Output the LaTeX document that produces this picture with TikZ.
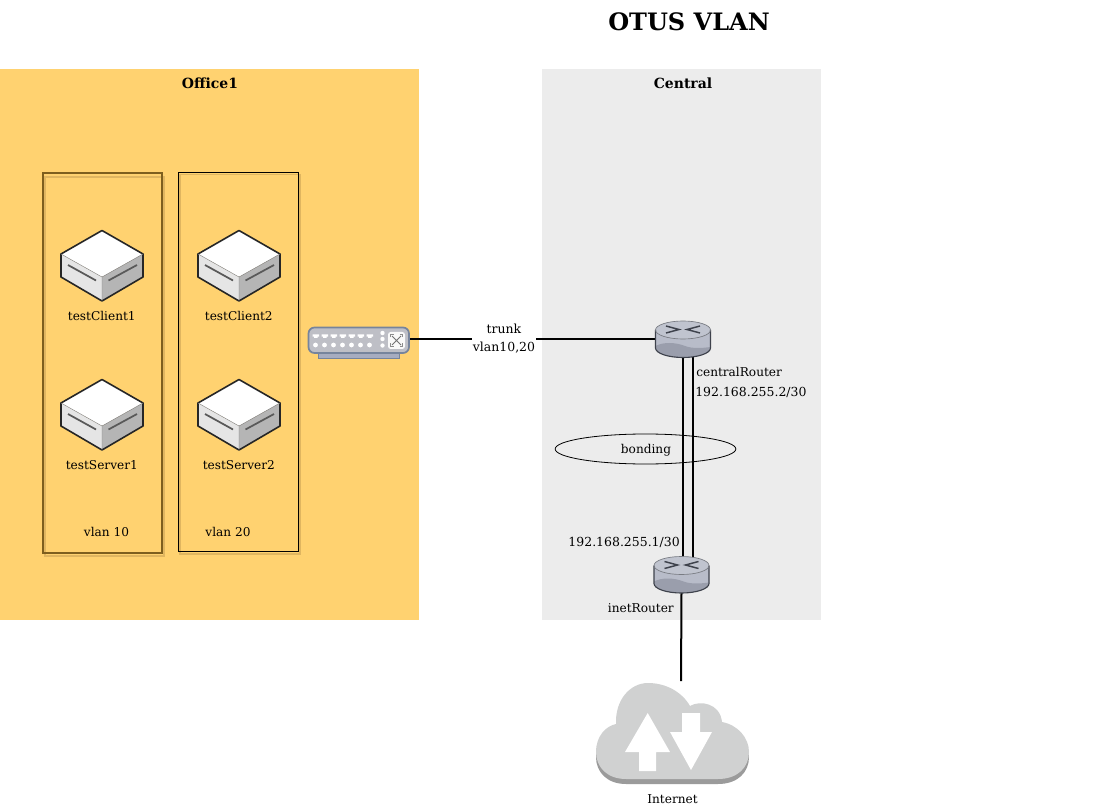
\documentclass[tikz,border=0pt]{standalone}
\usepackage{fontspec}
\setmainfont{DejaVu Serif}
\usetikzlibrary{calc,shapes.geometric}
\definecolor{officefill}{HTML}{FFD270}
\definecolor{centralfill}{HTML}{ECECEC}
\definecolor{vlanedge}{HTML}{7E5F1E}
\definecolor{vlanshade}{HTML}{E0B660}
\definecolor{rtrtop}{HTML}{C0C4CF}
\definecolor{rtrside}{HTML}{B8BCC9}
\definecolor{rtrlow}{HTML}{9A9EAC}
\definecolor{rtredge}{HTML}{3E424C}
\definecolor{swfill}{HTML}{BEBFC6}
\definecolor{swedge}{HTML}{76849C}
\definecolor{swbase}{HTML}{A6ACC0}
\definecolor{cloudfill}{HTML}{D0D1D1}
\definecolor{cloudshade}{HTML}{9B9B9B}
\tikzset{
  txt/.style={font=\fontsize{9.1pt}{13.5pt}\selectfont,inner sep=0pt,align=center,text=black},
  ip/.style={font=\fontsize{9.35pt}{13.5pt}\selectfont,inner sep=0pt,align=center,text=black},
  head/.style={font=\fontsize{10.5pt}{13pt}\selectfont\bfseries,inner sep=0pt},
  link/.style={draw=black,line width=1.5pt},
  anchorbox/.style={inner sep=0pt,outer sep=0pt},
  server/.pic={
    \path[fill=white] (0,-23.5) -- (41,0) -- (0,23) -- (-41,0) -- cycle;
    \path[fill=black!10] (-41,0) -- (0,23) -- (0,47) -- (-41,23) -- cycle;
    \path[fill=black!29] (41,0) -- (0,23) -- (0,47) -- (41,23) -- cycle;
    \draw[line width=1.2pt,draw=black!85,line join=round] (0,-23.5) -- (41,0) -- (41,23) -- (0,47) -- (-41,23) -- (-41,0) -- cycle;
    \draw[line width=0.3pt,draw=black!50] (-41,0) -- (0,23) -- (41,0) (0,23) -- (0,47);
    \draw[line width=1.3pt,draw=black!65] (-34,11) -- (-6,26.5) (6.5,26.5) -- (35,11);
  },
  router/.pic={
    \path[fill=rtrside] (-27.5,-9) -- (-27.5,9) arc[start angle=180,end angle=0,x radius=27.5,y radius=9.5] -- (27.5,-9) -- cycle;
    \path[fill=rtrlow] (-27.5,7) .. controls (-20,3) and (-8,3) .. (2,7) .. controls (10,10) and (20,9) .. (27.5,8) -- (27.5,9) arc[start angle=0,end angle=180,x radius=27.5,y radius=9.5] -- cycle;
    \path[fill=rtrtop] (0,-9) ellipse[x radius=27.5,y radius=9];
    \draw[line width=0.85pt,draw=rtredge] (-27.5,-9) -- (-27.5,9) arc[start angle=180,end angle=0,x radius=27.5,y radius=9.5] -- (27.5,-9);
    \draw[line width=0.5pt,draw=rtredge!70] (0,-9) ellipse[x radius=27.5,y radius=9];
    \draw[line width=1.1pt,draw=rtredge] (-17,-13) -- (-4,-9.5) -- (-17,-6) (17,-13) -- (4,-9.5) -- (17,-6);
  }
}
\begin{document}
\begin{tikzpicture}[x=0.75pt,y=-0.75pt]
\useasboundingbox (0,0) rectangle (1120,805);
\fill[white] (0,0) rectangle (1120,805);
% zones
\node[anchorbox,fill=officefill,minimum width=314pt,minimum height=413.25pt] (office) at (209.3,344.5) {};
\node[anchorbox,fill=centralfill,minimum width=209.25pt,minimum height=413.25pt] (central) at (681.5,344.5) {};
\node[head] (officelabel) at (210,83) {Office1};
\node[head] (centrallabel) at (683,83) {Central};
\node[font=\fontsize{18pt}{22pt}\selectfont\bfseries,inner sep=0pt] (title) at (689,21.5) {OTUS VLAN};
% vlan boxes
\draw[vlanshade,line width=1.2pt] (45,177) rectangle (164,556);
\draw[vlanedge,line width=1.5pt] (42.5,173.5) rectangle (162,552.5);
\draw[vlanshade,line width=0.9pt] (180,174.5) rectangle (300,554);
\draw[black,line width=0.7pt] (178,172) rectangle (298,551.5);
% servers
\pic at (102,254) {server};
\pic at (239,254) {server};
\pic at (102,403) {server};
\pic at (239,403) {server};
\node[txt] (tc1) at (101.8,316) {testClient1};
\node[txt] (tc2) at (238.8,316) {testClient2};
\node[txt] (ts1) at (101.8,465) {testServer1};
\node[txt] (ts2) at (238.8,465) {testServer2};
\node[txt] (v10) at (106.5,532) {vlan 10};
\node[txt] (v20) at (228,532) {vlan 20};
% anchors
\node[anchorbox,minimum width=75pt,minimum height=19.5pt] (sw) at (358.5,339) {};
\node[anchorbox,minimum width=41.25pt,minimum height=27pt] (crt) at (683,339) {};
\node[anchorbox,minimum width=41.25pt,minimum height=27pt] (irt) at (681.5,574.5) {};
\coordinate (cloudtop) at (681,681);
% connectors
\draw[link] (sw.east) -- (crt.west);
\draw[link] ($(crt.south)+(0,-2)$) -- ($(irt.north)+(1.5,2)$);
\draw[link] ($(crt.south)+(10,-2)$) -- ($(irt.north)+(11.5,2)$);
\draw[link] (irt.south) -- (cloudtop);
% switch
\fill[swbase,draw=swedge,line width=0.6pt] (318,352) rectangle (399,358);
\draw[swedge,fill=swfill,line width=1.3pt,rounded corners=4.5pt] (308.5,327.5) rectangle (409,353);
\fill[white!90!swfill,rounded corners=2pt] (388,332) rectangle (405,349);
\foreach \i in {0,...,6} {
  \fill[white] ({312.5+\i*9},334.5) -- ++(6.5,0) -- ++(0,2.2) -- ++(-1.5,0) -- ++(0,1.3) -- ++(-3.5,0) -- ++(0,-1.3) -- ++(-1.5,0) -- cycle;
  \fill[white] ({315.5+\i*9},345) circle[radius=2.4];
}
\fill[white] (382.5,333) circle[radius=2.2] (382.5,339) circle[radius=2.2] (382.5,345.5) circle[radius=2.2];
\draw[black!55,line width=0.6pt] (392,336) -- (401,345) (401,336) -- (392,345);
\draw[black!45,line width=0.6pt] (390.5,337.5) -- (390.5,334.5) -- (393.5,334.5) (399.5,334.5) -- (402.5,334.5) -- (402.5,337.5) (402.5,343.5) -- (402.5,346.5) -- (399.5,346.5) (393.5,346.5) -- (390.5,346.5) -- (390.5,343.5);
% routers
\pic at (683,339) {router};
\pic at (681.5,574.5) {router};
% trunk label
\node[ip,fill=white,inner xsep=1pt] (trunk) at (504,339) {trunk\\vlan10,20};
% bonding
\node[draw=black,line width=0.6pt,ellipse,minimum width=135.5pt,minimum height=22.5pt,inner sep=0pt] (bond) at (645.5,449) {};
\node[txt] (bondlabel) at (646,450) {bonding};
\node[txt,anchor=west] (crlabel) at (696,372) {centralRouter};
\node[ip,anchor=west] (cip) at (695,392) {192.168.255.2/30};
\node[ip,anchor=east] (iip) at (680,542) {192.168.255.1/30};
\node[txt,anchor=east] (irlabel) at (674,608) {inetRouter};
% cloud
\def\cloudpath{(626,779) .. controls (607,779) and (596,767) .. (596,752) .. controls (596,736) and (606,726) .. (616,724) .. controls (615,700) and (630,683) .. (648,683) .. controls (666,683) and (682,692) .. (690,706) .. controls (700,700) and (720,703) .. (722,722) .. controls (738,725) and (749,738) .. (749,752) .. controls (749,767) and (738,779) .. (718,779) -- cycle}
\fill[cloudshade,shift={(0,5)}] \cloudpath;
\fill[cloudfill] \cloudpath;
\fill[white] (647.7,713) -- (670,752) -- (656,752) -- (656,771) -- (639,771) -- (639,752) -- (625,752) -- cycle;
\fill[white] (682,713) -- (700,713) -- (700,732) -- (712,732) -- (691,770) -- (670,732) -- (682,732) -- cycle;
\node[txt] (inet) at (672.5,799) {Internet};
\end{tikzpicture}
\end{document}
